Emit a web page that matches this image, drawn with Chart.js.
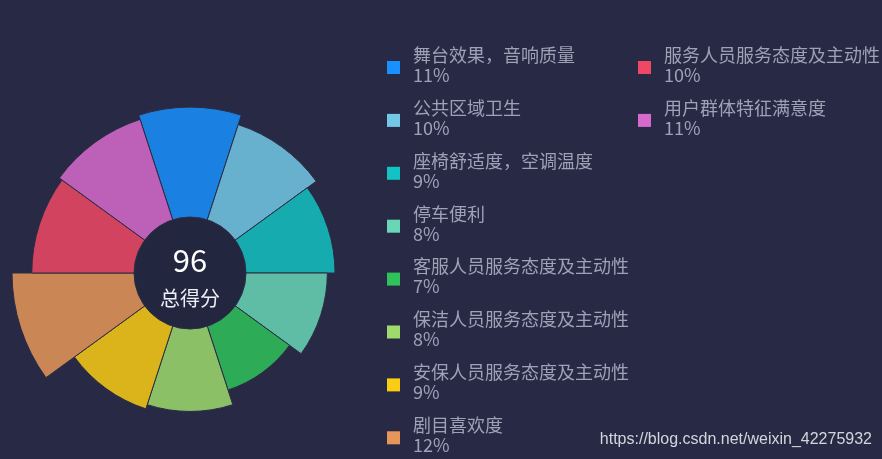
<!DOCTYPE html>
<html>
<head>
<meta charset="utf-8">
<script src="https://cdn.jsdelivr.net/npm/chart.js@4.4.0/dist/chart.umd.min.js"></script>
<style>
html, body { margin: 0; padding: 0; background: #282a45; }
#wrap { position: relative; width: 882px; height: 459px; }
</style>
</head>
<body>
<div id="wrap"><canvas id="rose"></canvas></div>
<script>
var labels = ["舞台效果，音响质量", "公共区域卫生", "座椅舒适度，空调温度", "停车便利", "客服人员服务态度及主动性",
	"保洁人员服务态度及主动性", "安保人员服务态度及主动性", "剧目喜欢度", "服务人员服务态度及主动性", "用户群体特征满意度"];
var values = [10.9, 10.0, 9.0, 8.3, 7.0, 8.4, 8.8, 12.0, 10.2, 10.5];
var colors = ["#1890ff", "#72c8e6", "#13c2c2", "#69d6b6", "#2fc25b", "#9eda6c", "#facc14", "#e69658", "#f04864", "#d76acc"];
var totalScore = "96";
var totalLabel = "总得分";
var watermark = "https://blog.csdn.net/weixin_42275932";

var cjk = '"Noto Sans CJK SC", "Noto Sans", sans-serif';

function fade(hex, a) {
	var n = parseInt(hex.slice(1), 16);
	return "rgba(" + (n >> 16) + "," + ((n >> 8) & 255) + "," + (n & 255) + "," + a + ")";
}

var centerPlugin = {
	id: "centerText",
	afterDatasetsDraw: function(chart) {
		var ctx = chart.ctx;
		var r = chart.scales.r;
		ctx.save();
		ctx.beginPath();
		ctx.arc(r.xCenter, r.yCenter, 56, 0, Math.PI * 2);
		ctx.fillStyle = "#23263f";
		ctx.fill();
		ctx.lineWidth = 1;
		ctx.strokeStyle = "#2c2f48";
		ctx.stroke();
		ctx.fillStyle = "#ffffff";
		ctx.textAlign = "center";
		ctx.textBaseline = "middle";
		ctx.font = "31px " + cjk;
		ctx.fillText(totalScore, r.xCenter, r.yCenter - 13);
		ctx.fillStyle = "#eceef5";
		ctx.font = "20px " + cjk;
		ctx.fillText(totalLabel, r.xCenter, r.yCenter + 25);
		ctx.restore();
	}
};

var legendPlugin = {
	id: "sideLegend",
	afterDraw: function(chart) {
		var ctx = chart.ctx;
		ctx.save();
		ctx.textBaseline = "middle";
		ctx.textAlign = "left";
		for (var i = 0; i < labels.length; i++) {
			var col = i < 8 ? 0 : 1;
			var row = i % 8;
			var x = 387 + col * 251;
			var y = 55 + row * 52.9;
			ctx.fillStyle = colors[i];
			ctx.fillRect(x, y + 6, 13, 13);
			ctx.fillStyle = "#9fa1b6";
			ctx.font = "18px " + cjk;
			ctx.fillText(labels[i], x + 26, y);
			ctx.fillText(Math.round(values[i]) + "%", x + 26, y + 20);
		}
		ctx.fillStyle = "#d4d5dc";
		ctx.font = '16px "Liberation Sans", Arial, sans-serif';
		ctx.textAlign = "right";
		ctx.fillText(watermark, 872, 440);
		ctx.restore();
	}
};

var ctx = document.getElementById("rose").getContext("2d");
var chart = new Chart(ctx, {
	type: "polarArea",
	data: {
		labels: labels,
		datasets: [{
			data: values,
			backgroundColor: colors.map(function(c) { return fade(c, 0.85); }),
			borderColor: "#2a2c44",
			borderWidth: 1,
			clip: false
		}]
	},
	options: {
		responsive: true,
		maintainAspectRatio: false,
		animation: false,
		layout: { padding: { left: 12, top: 95, right: 514, bottom: 8 } },
		scales: {
			r: { display: false, min: -4.2, max: 12, startAngle: -18 }
		},
		plugins: {
			legend: { display: false },
			tooltip: { enabled: false }
		}
	},
	plugins: [centerPlugin, legendPlugin]
});
</script>
</body>
</html>
